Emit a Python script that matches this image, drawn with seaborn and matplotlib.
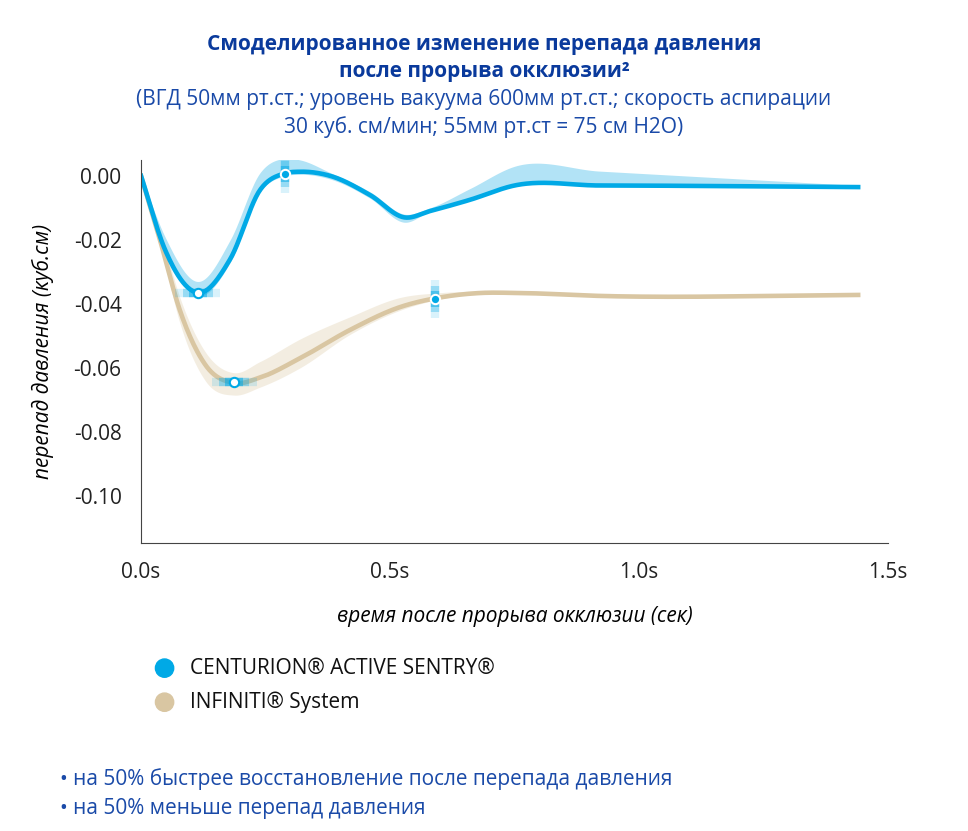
import numpy as np
import pandas as pd
import matplotlib
matplotlib.use('Agg')
import matplotlib.pyplot as plt
from matplotlib.patches import Ellipse
import seaborn as sns

plt.rcParams['font.family'] = 'Open Sans'

# data (time in s, pressure change)
t_blue = [0, 0.048, 0.114, 0.179, 0.239, 0.289, 0.319, 0.38, 0.46, 0.53, 0.58, 0.66, 0.75, 0.92, 1.44]
v_blue = [0, -0.023, -0.0365, -0.026, -0.0044, 0.0008, 0.0013, 0.0, -0.006, -0.013, -0.011, -0.0075, -0.003, -0.003, -0.0035]
lo_blue = [0, -0.023, -0.0375, -0.027, -0.0050, 0.0, 0.0005, -0.001, -0.007, -0.0145, -0.011, -0.0075, -0.003, -0.003, -0.0038]
hi_blue = [0, -0.019, -0.033, -0.020, 0.0010, 0.0055, 0.0050, 0.001, -0.005, -0.012, -0.010, -0.004, 0.003, 0.0015, -0.0030]

t_tan = [0, 0.038, 0.078, 0.129, 0.187, 0.239, 0.319, 0.42, 0.52, 0.60, 0.68, 0.76, 0.92, 1.44]
v_tan = [0, -0.02, -0.042, -0.059, -0.0647, -0.063, -0.057, -0.0481, -0.041, -0.038, -0.0366, -0.0366, -0.0375, -0.0372]
lo_tan = [0, -0.021, -0.046, -0.064, -0.0685, -0.066, -0.060, -0.0495, -0.042, -0.0385, -0.0368, -0.0368, -0.0378, -0.0376]
hi_tan = [0, -0.017, -0.038, -0.055, -0.0615, -0.058, -0.051, -0.0440, -0.038, -0.0365, -0.0360, -0.0362, -0.0372, -0.0368]

pts_open = ([0.114, 0.187], [-0.0365, -0.0645])
pts_fill = ([0.289, 0.59], [0.0005, -0.0385])

BLUE = '#00a9e6'
TAN = '#d9c6a2'


def smooth(x, y, n=600):
    # cubic Hermite through the read points
    x = np.asarray(x, float); y = np.asarray(y, float)
    m = np.gradient(y, x)
    xs = np.linspace(x[0], x[-1], n)
    i = np.clip(np.searchsorted(x, xs) - 1, 0, len(x) - 2)
    h = x[i + 1] - x[i]
    s = (xs - x[i]) / h
    h00 = 2*s**3 - 3*s**2 + 1; h10 = s**3 - 2*s**2 + s
    h01 = -2*s**3 + 3*s**2; h11 = s**3 - s**2
    return xs, h00*y[i] + h10*h*m[i] + h01*y[i+1] + h11*h*m[i+1]


fig = plt.figure(figsize=(9.68, 8.31), dpi=100)
ax = fig.add_axes([0.1457, 0.3466, 0.7717, 0.461])

for t, v, lo, hi, c, bc, a in [(t_tan, v_tan, lo_tan, hi_tan, TAN, '#e8dcc4', 0.5),
                               (t_blue, v_blue, lo_blue, hi_blue, BLUE, '#7fd1f0', 0.6)]:
    xs, ys = smooth(t, v)
    _, yl = smooth(t, lo)
    _, yh = smooth(t, hi)
    ax.fill_between(xs, yl, yh, color=bc, alpha=a, lw=0)
    sns.lineplot(data=pd.DataFrame({'t': xs, 'v': ys}), x='t', y='v', color=c, lw=3.3, ax=ax)

# glow bars behind markers
for x, y in zip(*pts_open):
    for k, al in [(0.045, 0.15), (0.03, 0.3), (0.018, 0.5)]:
        ax.plot([x - k, x + k], [y, y], color=BLUE, lw=6, alpha=al, solid_capstyle='butt')
for x, y in zip(*pts_fill):
    for k, al in [(0.006, 0.15), (0.004, 0.3), (0.0025, 0.5)]:
        ax.plot([x, x], [y - k, y + k], color=BLUE, lw=6, alpha=al, solid_capstyle='butt')
ax.scatter(*pts_open, s=45, color='white', edgecolor=BLUE, linewidth=1.5, zorder=5)
ax.scatter(*pts_fill, s=45, color=BLUE, edgecolor='white', linewidth=1.5, zorder=5)

ax.set_xlim(0, 1.5)
ax.set_ylim(-0.1147, 0.005)
ax.set_xticks([0, 0.5, 1.0, 1.5])
ax.set_xticklabels(['0.0s', '0.5s', '1.0s', '1.5s'])
ax.set_yticks([0, -0.02, -0.04, -0.06, -0.08, -0.10])
ax.set_yticklabels(['0.00', '-0.02', '-0.04', '-0.06', '-0.08', '-0.10'])
ax.tick_params(length=0, labelsize=15, pad=14, colors='#222222')
for s in ['top', 'right']:
    ax.spines[s].set_visible(False)
for s in ['left', 'bottom']:
    ax.spines[s].set_color('#444444')
ax.set_xlabel('время после прорыва окклюзии (сек)', fontsize=15, style='italic', labelpad=16)
ax.set_ylabel('перепад давления (куб.см)', fontsize=15, style='italic', labelpad=14)

fig.text(0.5, 0.930, 'Смоделированное изменение перепада давления\nпосле прорыва окклюзии²',
         ha='center', va='center', fontsize=15, fontweight='bold', color='#0a3a9c', linespacing=1.35)
fig.text(0.5, 0.863, '(ВГД 50мм рт.ст.; уровень вакуума 600мм рт.ст.; скорость аспирации\n30 куб. см/мин; 55мм рт.ст = 75 см H2O)',
         ha='center', va='center', fontsize=15, color='#1a4aa8', linespacing=1.35)

for y, c, lab in [(0.196, BLUE, 'CENTURION® ACTIVE SENTRY®'), (0.155, TAN, 'INFINITI® System')]:
    fig.add_artist(Ellipse((0.17, y), 0.022 * 831 / 968, 0.022, color=c, transform=fig.transFigure))
    fig.text(0.196, y, lab, va='center', fontsize=15, color='#111111')

fig.text(0.062, 0.062, '• на 50% быстрее восстановление после перепада давления', fontsize=15, color='#1a4aa8', va='center')
fig.text(0.062, 0.027, '• на 50% меньше перепад давления', fontsize=15, color='#1a4aa8', va='center')

fig.savefig('out.png', dpi=100)
